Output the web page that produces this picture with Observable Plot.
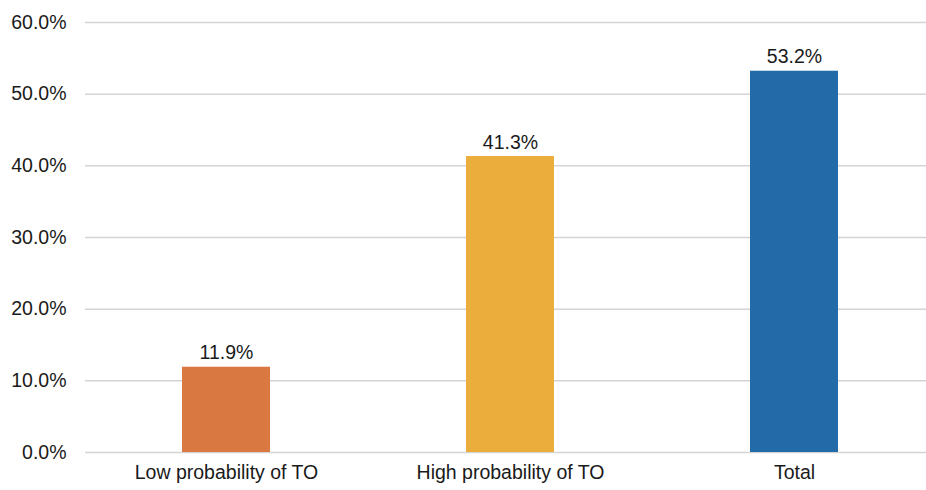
<!DOCTYPE html>
<html><head><meta charset="utf-8">
<script src="https://cdn.jsdelivr.net/npm/d3@7"></script>
<script src="https://cdn.jsdelivr.net/npm/@observablehq/plot@0.6"></script>
<style>
body{margin:0;background:#fff;}
#chart svg{display:block;font-family:"Liberation Sans",Arial,sans-serif;}
</style>
</head><body><div id="chart"></div>
<script>
const categories = ["Low probability of TO", "High probability of TO", "Total"];
const values = [11.9, 41.3, 53.2];
const colors = ["#D97841", "#EBAE3C", "#226BA8"];
const yTicks = [0, 10, 20, 30, 40, 50, 60];

const data = categories.map((c, i) => ({category: c, value: values[i]}));

const chart = Plot.plot({
  width: 926,
  height: 490,
  marginTop: 22,
  marginBottom: 38,
  marginLeft: 85,
  marginRight: 0,
  style: {fontFamily: "Liberation Sans, Arial, sans-serif", fontSize: "19.5px", color: "#1a1a1a", background: "#fff"},
  x: {domain: categories, range: [84, 936], paddingInner: 0.69, paddingOuter: 0.345, label: null},
  y: {domain: [0, 60], label: null},
  color: {domain: categories, range: colors},
  marks: [
    Plot.ruleY(yTicks, {stroke: "#d4d4d4", strokeWidth: 1.5}),
    Plot.barY(data, {x: "category", y: "value", fill: "category"}),
    Plot.text(data, {x: "category", y: "value", text: d => d.value.toFixed(1) + "%", dy: -14, fontSize: 19.5, fill: "#1a1a1a"}),
    Plot.axisY(yTicks, {tickSize: 0, tickPadding: 19, tickFormat: d => d.toFixed(1) + "%", fontSize: 19.5, fill: "#1a1a1a", label: null}),
    Plot.axisX({tickSize: 0, tickPadding: 13, fontSize: 19.5, fill: "#1a1a1a", label: null})
  ]
});
document.getElementById("chart").appendChild(chart);
</script>
</body></html>
